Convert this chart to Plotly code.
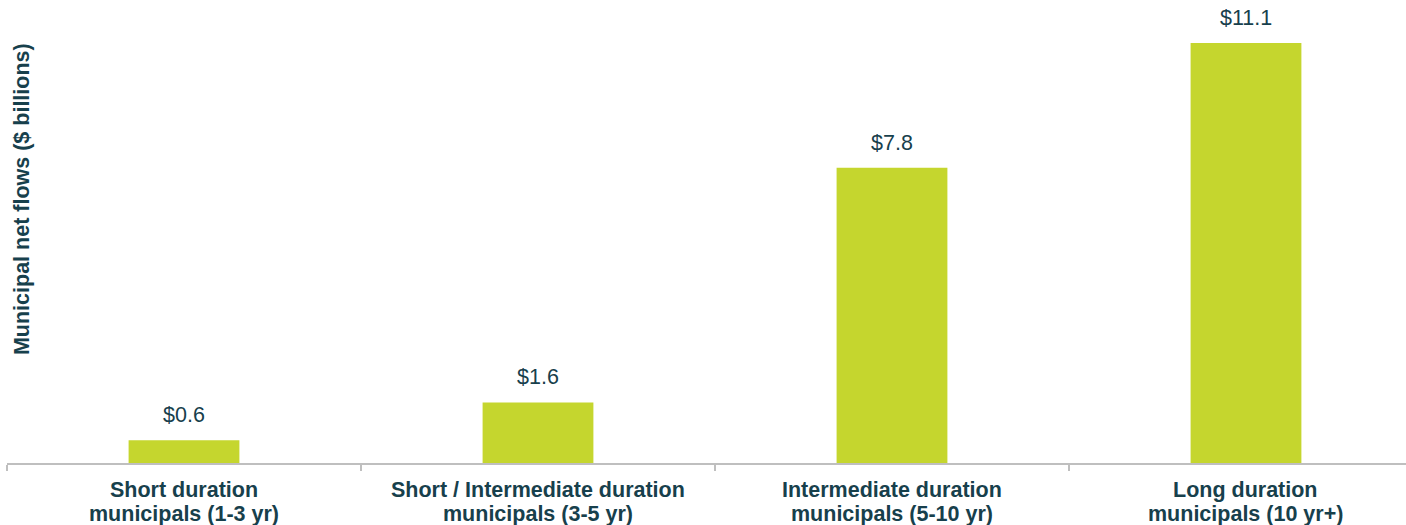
import plotly.graph_objects as go

categories = [
    "Short duration municipals (1-3 yr)",
    "Short / Intermediate duration municipals (3-5 yr)",
    "Intermediate duration municipals (5-10 yr)",
    "Long duration municipals (10 yr+)",
]
label_line1 = ["Short duration", "Short / Intermediate duration",
               "Intermediate duration", "Long duration"]
label_line2 = ["municipals (1-3 yr)", "municipals (3-5 yr)",
               "municipals (5-10 yr)", "municipals (10 yr+)"]
values = [0.6, 1.6, 7.8, 11.1]
value_labels = ["$0.6", "$1.6", "$7.8", "$11.1"]

TEXT = "#17404C"
BAR = "#C5D62E"
FONT = "Arial, Liberation Sans, sans-serif"

fig = go.Figure()
fig.add_trace(go.Bar(
    x=categories, y=values, marker=dict(color=BAR, line=dict(width=0)),
    width=0.313, hoverinfo="skip",
))

for c, v, lab in zip(categories, values, value_labels):
    fig.add_annotation(x=c, y=v, text=lab, showarrow=False, yanchor="bottom",
                       yshift=11, font=dict(family=FONT, size=21.5, color=TEXT))

for c, l1, l2 in zip(categories, label_line1, label_line2):
    fig.add_annotation(x=c, xref="x", yref="paper", y=0, yshift=-27, text="<b>%s</b>" % l1,
                       showarrow=False, xanchor="center", yanchor="middle",
                       font=dict(family=FONT, size=21.5, color=TEXT))
    fig.add_annotation(x=c, xref="x", yref="paper", y=0, yshift=-51, text="<b>%s</b>" % l2,
                       showarrow=False, xanchor="center", yanchor="middle",
                       font=dict(family=FONT, size=21.5, color=TEXT))

fig.add_annotation(xref="paper", yref="paper", x=0.0107, y=0.57, xanchor="center",
                   yanchor="middle", text="<b>Municipal net flows ($ billions)</b>",
                   textangle=-90, showarrow=False,
                   font=dict(family=FONT, size=21.5, color=TEXT))

fig.update_layout(
    width=1406, height=525,
    margin=dict(l=7, r=0, t=0, b=62),
    plot_bgcolor="white", paper_bgcolor="white",
    showlegend=False,
    xaxis=dict(
        type="category", automargin=False,
        range=[-0.5, 3.452], tickson="boundaries", ticks="outside",
        ticklen=6, tickcolor="#BFBFBF", tickwidth=2,
        showline=True, linecolor="#BFBFBF", linewidth=2,
        showgrid=False, zeroline=False, showticklabels=False,
    ),
    yaxis=dict(range=[0, 12.236], visible=False, showgrid=False, zeroline=False,
               automargin=False),
)

fig.write_html("out.html", config={"displayModeBar": False},
               post_script="document.body.style.margin='0';")
